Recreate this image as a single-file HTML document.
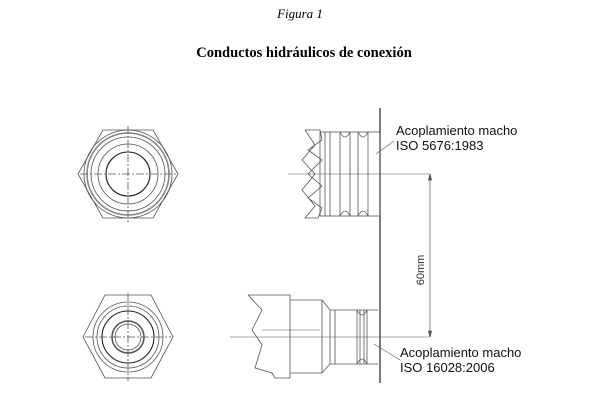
<!DOCTYPE html>
<html><head><style>body{margin:0;background:#fff}svg{display:block}</style></head><body>
<svg width="600" height="411" viewBox="0 0 600 411" xmlns="http://www.w3.org/2000/svg">
<text x="300" y="18" text-anchor="middle" font-family="Liberation Serif,serif" font-style="italic" font-size="13">Figura 1</text>
<text x="304" y="57" text-anchor="middle" font-family="Liberation Serif,serif" font-weight="bold" font-size="14.5">Conductos hidráulicos de conexión</text>
<g fill="none" stroke="#555" stroke-width="0.8">
<!-- top hex -->
<polygon points="78,174 103,130 153,130 178,174 153,218 103,218"/>
<circle cx="128" cy="174" r="44"/><circle cx="128" cy="174" r="41" stroke-width="1.6" stroke="#888"/>
<circle cx="128" cy="174" r="37"/><circle cx="128" cy="174" r="30"/>
<circle cx="128" cy="174" r="22" stroke="#222" stroke-width="1.1"/>
<line x1="128" y1="126" x2="128" y2="222" stroke-dasharray="8,2,2,2"/><line x1="80" y1="174" x2="176" y2="174" stroke-dasharray="8,2,2,2"/>
<!-- bottom hex -->
<polygon points="83,337 105,295 151,295 173,337 151,378 105,378"/>
<circle cx="128" cy="337" r="35"/><circle cx="128" cy="337" r="31"/>
<circle cx="128" cy="337" r="26" stroke="#222" stroke-width="1.1"/>
<circle cx="128" cy="337" r="16" stroke-width="1.6"/><circle cx="128" cy="337" r="13"/>
<line x1="128" y1="293" x2="128" y2="381" stroke-dasharray="8,2,2,2"/><line x1="85" y1="337" x2="171" y2="337" stroke-dasharray="8,2,2,2"/>
<!-- plate -->
<line x1="380" y1="108" x2="380" y2="383" stroke="#333" stroke-width="1.3"/>
<!-- top male -->
<polyline points="305,130 320,130 322,140 308,150 322,160 308,174 322,186 308,198 322,208 318,218 305,218 315,206 302,190 315,174 302,160 315,145 305,130"/>
<rect x="320" y="132" width="60" height="84"/>
<line x1="325" y1="132" x2="325" y2="216"/><line x1="330" y1="132" x2="330" y2="216"/>
<path d="M340,132 Q345,142 350,132 M340,216 Q345,206 350,216"/>
<line x1="340" y1="132" x2="340" y2="216"/><line x1="350" y1="132" x2="350" y2="216"/>
<path d="M358,132 Q363,142 368,132 M358,216 Q363,206 368,216"/>
<line x1="358" y1="132" x2="358" y2="216"/><line x1="368" y1="132" x2="368" y2="216"/>
<line x1="288" y1="174" x2="430" y2="174" stroke-width="0.6"/>
<!-- bottom male -->
<polyline points="248,295 290,295 290,378 275,378 272,373 255,368 262,345 252,330 262,310 248,295"/>
<line x1="262" y1="330" x2="320" y2="330" stroke-width="0.5"/>
<line x1="290" y1="300" x2="322" y2="300"/><line x1="290" y1="373" x2="322" y2="373"/>
<polyline points="322,300 330,310 330,364 322,373"/>
<line x1="322" y1="300" x2="322" y2="373"/><line x1="335" y1="310" x2="335" y2="364"/>
<line x1="330" y1="310" x2="378" y2="310"/><line x1="330" y1="364" x2="378" y2="364"/>
<path d="M357,310 Q362,320 367,310 M357,364 Q362,354 367,364"/>
<line x1="357" y1="310" x2="357" y2="364"/><line x1="360" y1="310" x2="360" y2="364"/><line x1="364" y1="310" x2="364" y2="364"/><line x1="367" y1="310" x2="367" y2="364"/>
<line x1="230" y1="337" x2="430" y2="337" stroke-width="0.6"/>
<!-- dimension -->
<line x1="430" y1="174" x2="430" y2="337" stroke-width="0.7"/>
<polygon points="430,174 428.5,180 431.5,180" fill="#555"/><polygon points="430,337 428.5,331 431.5,331" fill="#555"/>
<!-- leaders -->
<line x1="376" y1="154" x2="394" y2="141" stroke-width="0.6"/>
<line x1="374" y1="344" x2="400" y2="360" stroke-width="0.6"/>
</g>
<text x="424" y="270" transform="rotate(-90 424 270)" text-anchor="middle" font-family="Liberation Sans,sans-serif" font-size="11" fill="#333">60mm</text>
<g font-family="Liberation Sans,sans-serif" font-size="13" fill="#111">
<text x="396" y="135">Acoplamiento macho</text><text x="396" y="150">ISO 5676:1983</text>
<text x="400" y="357">Acoplamiento macho</text><text x="400" y="372">ISO 16028:2006</text>
</g>
</svg>
</body></html>
